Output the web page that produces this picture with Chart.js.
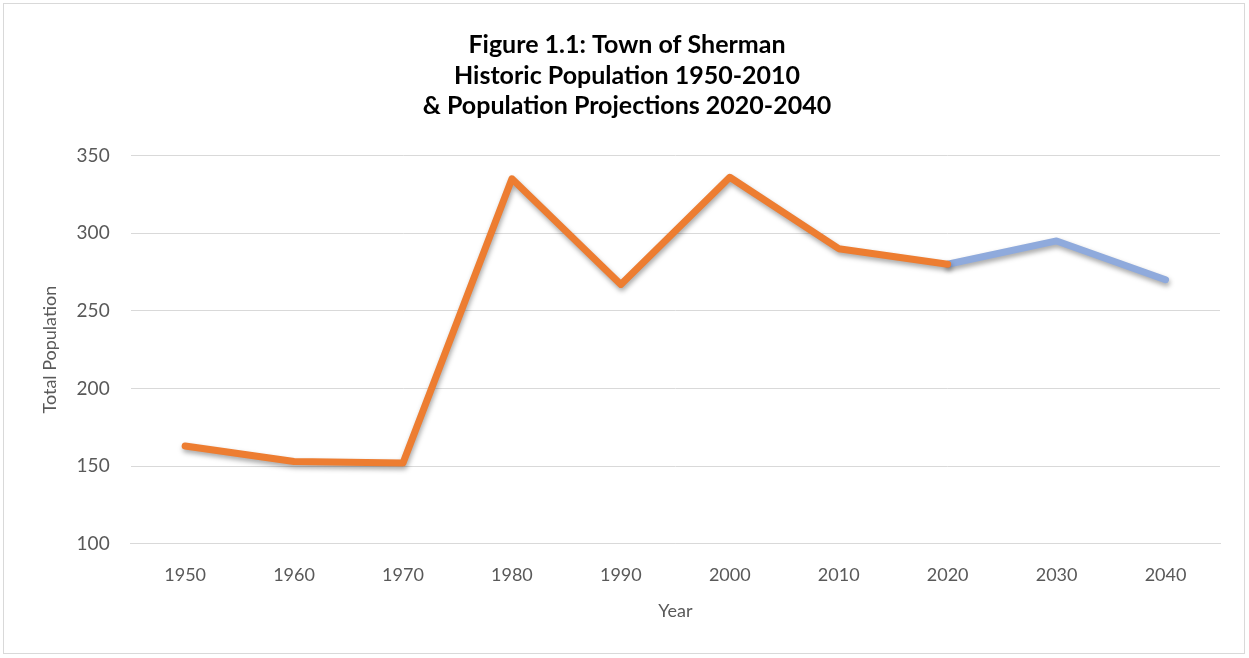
<!DOCTYPE html>
<html>
<head>
<meta charset="utf-8">
<script src="https://cdn.jsdelivr.net/npm/chart.js@4/dist/chart.umd.min.js"></script>
<style>
    html, body { margin: 0; padding: 0; background: #fff; }
    #wrap {
        position: absolute; left: 3px; top: 3px;
        width: 1242px; height: 651px;
        border: 1px solid #d9d9d9; box-sizing: border-box;
    }
    canvas { position: absolute; left: 0; top: 0; }
</style>
</head>
<body>
<div id="wrap"><canvas id="popChart" width="1240" height="649"></canvas></div>
<script>
// ============================================
// DATA
// ============================================
const years = ['1950', '1960', '1970', '1980', '1990', '2000', '2010', '2020', '2030', '2040'];
const historic = [163, 153, 152, 335, 267, 336, 290, 280, null, null];
const projected = [null, null, null, null, null, null, null, 280, 295, 270];
const yTicks = [100, 150, 200, 250, 300, 350];

const titleLines = [
    'Figure 1.1: Town of Sherman',
    'Historic Population 1950-2010',
    '& Population Projections 2020-2040'
];

const FONT = "Lato, 'Open Sans', 'Liberation Sans', sans-serif";
const GREY = '#595959';

// soft drop shadow under the lines, like the office chart
const lineShadow = {
    id: 'lineShadow',
    beforeDatasetDraw(chart) {
        const ctx = chart.ctx;
        ctx.save();
        ctx.shadowColor = 'rgba(0,0,0,0.35)';
        ctx.shadowBlur = 5;
        ctx.shadowOffsetX = 1;
        ctx.shadowOffsetY = 3;
    },
    afterDatasetDraw(chart) {
        chart.ctx.restore();
    }
};

const ctx = document.getElementById('popChart').getContext('2d');
new Chart(ctx, {
    type: 'line',
    data: {
        labels: years,
        datasets: [
            {
                label: 'Historic',
                data: historic,
                borderColor: '#ED7D31',
                borderWidth: 7,
                pointRadius: 0,
                tension: 0,
                borderCapStyle: 'round',
                borderJoinStyle: 'round',
                spanGaps: false
            },
            {
                label: 'Projected',
                data: projected,
                borderColor: '#8FAADC',
                borderWidth: 7,
                pointRadius: 0,
                tension: 0,
                borderCapStyle: 'round',
                borderJoinStyle: 'round',
                spanGaps: false
            }
        ]
    },
    options: {
        responsive: false,
        animation: false,
        layout: { padding: { left: 30, right: 24, top: 26, bottom: 31 } },
        plugins: {
            legend: { display: false },
            tooltip: { enabled: false },
            title: {
                display: true,
                text: titleLines,
                color: '#000',
                font: { family: FONT, size: 25, weight: 'bold', lineHeight: 1.22 },
                padding: { top: 0, bottom: 34 }
            }
        },
        scales: {
            x: {
                offset: true,
                grid: { display: false, drawTicks: false },
                border: { display: true, color: '#d9d9d9', width: 1 },
                ticks: { color: GREY, font: { family: FONT, size: 18 }, padding: 21 },
                title: {
                    display: true, text: 'Year', color: GREY,
                    font: { family: FONT, size: 18 }, padding: { top: -7, bottom: 0 }
                }
            },
            y: {
                min: 100,
                max: 350,
                afterBuildTicks(axis) {
                    axis.ticks = yTicks.map(v => ({ value: v }));
                },
                grid: { color: '#d9d9d9', lineWidth: 1, drawTicks: false },
                border: { display: false },
                ticks: { color: GREY, font: { family: FONT, size: 19 }, padding: 21 },
                title: {
                    display: true, text: 'Total Population', color: GREY,
                    font: { family: FONT, size: 18 }, padding: { top: 5, bottom: -5 }
                }
            }
        }
    },
    plugins: [lineShadow]
});
</script>
</body>
</html>
